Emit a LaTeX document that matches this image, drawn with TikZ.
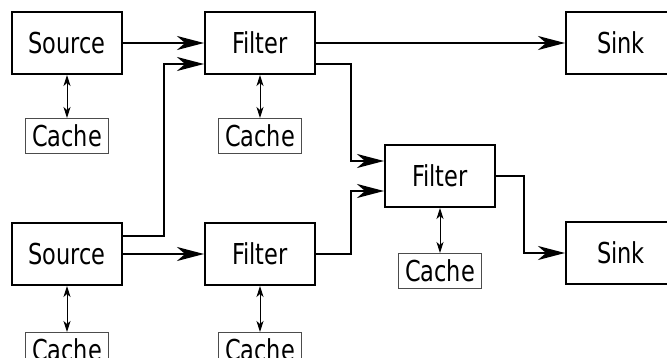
\documentclass[tikz,border=0pt]{standalone}
\usepackage{fontspec}
\setmainfont[FakeStretch=0.78]{DejaVu Sans}
\usetikzlibrary{arrows.meta,positioning}

\begin{document}
\begin{tikzpicture}[>={Stealth[length=27pt,width=14pt,inset=8pt]},every node/.style={font=\fontsize{28.8}{34}\selectfont},box/.style={draw,line width=2pt,minimum width=110pt,minimum height=62pt,inner sep=0pt},cache/.style={draw=black!70,line width=1pt,minimum width=83pt,minimum height=35pt,inner sep=0pt},flow/.style={->,line width=2pt},dbl/.style={{Stealth[length=11pt,width=7pt,inset=3pt]}-{Stealth[length=11pt,width=7pt,inset=3pt]},line width=1pt}]
\useasboundingbox (0,0) rectangle (667pt,-358pt);
\node[box] (src1) at (67pt,-43pt) {Source};
\node[box,right=81pt of src1] (flt1) {Filter};
\node[box,right=249pt of flt1] (snk1) {Sink};
\node[box,below=147pt of src1] (src2) {Source};
\node[box,right=81pt of src2] (flt2) {Filter};
\node[box,below right=69pt and 68pt of flt1] (flt3) {Filter};
\node[box,below=146pt of snk1] (snk2) {Sink};
\node[cache,below=43pt of src1] (cache1) {Cache};
\node[cache,below=43pt of flt1] (cache2) {Cache};
\node[cache,below=46pt of src2] (cache3) {Cache};
\node[cache,below=46pt of flt2] (cache4) {Cache};
\node[cache,below=45pt of flt3] (cache5) {Cache};
\draw[flow] (src1)--(flt1);
\draw[flow] ([yshift=17.5pt]src2.east) -| ([xshift=-40pt,yshift=-21pt]flt1.west) -- ([yshift=-21pt]flt1.west);
\draw[flow] (src2)--(flt2);
\draw[flow] (flt1.east)--(flt1.east -| snk1.west);
\draw[flow] ([yshift=-21pt]flt1.east) -| ([xshift=-33pt,yshift=15pt]flt3.west) -- ([yshift=15pt]flt3.west);
\draw[flow] (flt2.east) -| ([xshift=-33pt,yshift=-15pt]flt3.west) -- ([yshift=-15pt]flt3.west);
\draw[flow] (flt3.east) -| ([xshift=-41pt]snk2.west) -- (snk2.west);
\draw[dbl] (src1.south)--(src1.south |- cache1.north);
\draw[dbl] (flt1.south)--(flt1.south |- cache2.north);
\draw[dbl] (src2.south)--(src2.south |- cache3.north);
\draw[dbl] (flt2.south)--(flt2.south |- cache4.north);
\draw[dbl] (flt3.south)--(flt3.south |- cache5.north);
\end{tikzpicture}
\end{document}
